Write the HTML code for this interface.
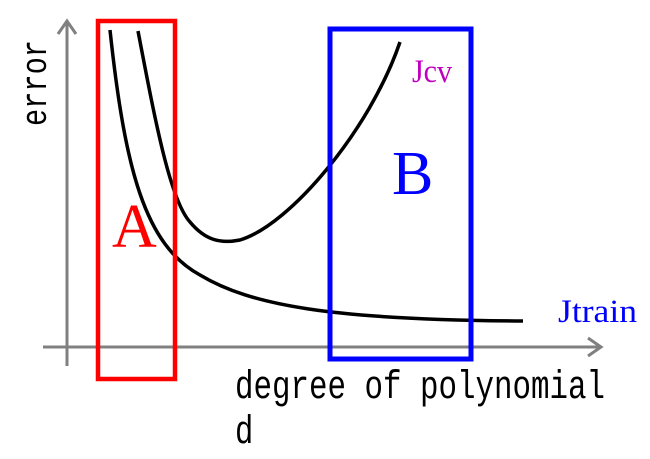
<!DOCTYPE html>
<html><head><meta charset="utf-8"><style>
html,body{margin:0;padding:0;background:#fff;}
svg{display:block;}
</style></head><body>
<svg width="650" height="459" viewBox="0 0 650 459" xmlns="http://www.w3.org/2000/svg">
<g stroke="#808080" stroke-width="3" fill="none">
<line x1="67" y1="22" x2="67" y2="366"/>
<polyline points="58,34 67,21 76,34"/>
<line x1="43" y1="347" x2="600" y2="347"/>
<polyline points="588,338 601,347 588,356"/>
</g>
<path d="M110,30 C125,170 145,245 200,275 C250,305 330,320 523,321" stroke="#000" stroke-width="3.5" fill="none"/>
<path d="M138,31 C155,120 170,200 190,222 C205,240 220,244 240,240 C290,225 370,130 400,42" stroke="#000" stroke-width="3.5" fill="none"/>
<rect x="98" y="21" width="77" height="358" stroke="#ff0000" stroke-width="4.5" fill="none"/>
<rect x="330" y="29" width="141" height="330" stroke="#0000ff" stroke-width="5" fill="none"/>
<text x="112" y="247" font-family="Liberation Serif, serif" font-size="62" fill="#ff0000">A</text>
<text x="392" y="194" font-family="Liberation Serif, serif" font-size="62" fill="#0000ff">B</text>
<text transform="translate(412,82) scale(1,1.25)" font-family="Liberation Serif, serif" font-size="26" fill="#c000c0" textLength="40" lengthAdjust="spacingAndGlyphs">Jcv</text>
<text transform="translate(558,322) scale(1,1.25)" font-family="Liberation Serif, serif" font-size="26" fill="#0000ff" textLength="79" lengthAdjust="spacingAndGlyphs">Jtrain</text>
<text transform="translate(235,398) scale(1,1.3)" font-family="Liberation Mono, monospace" font-size="30.5" fill="#000" textLength="370" lengthAdjust="spacingAndGlyphs">degree of polynomial</text>
<text transform="translate(235,443) scale(1,1.3)" font-family="Liberation Mono, monospace" font-size="30.5" fill="#000">d</text>
<text transform="translate(46,126) rotate(-90) scale(1,1.3)" font-family="Liberation Mono, monospace" font-size="28" fill="#000" textLength="86" lengthAdjust="spacingAndGlyphs">error</text>
</svg>
</body></html>
